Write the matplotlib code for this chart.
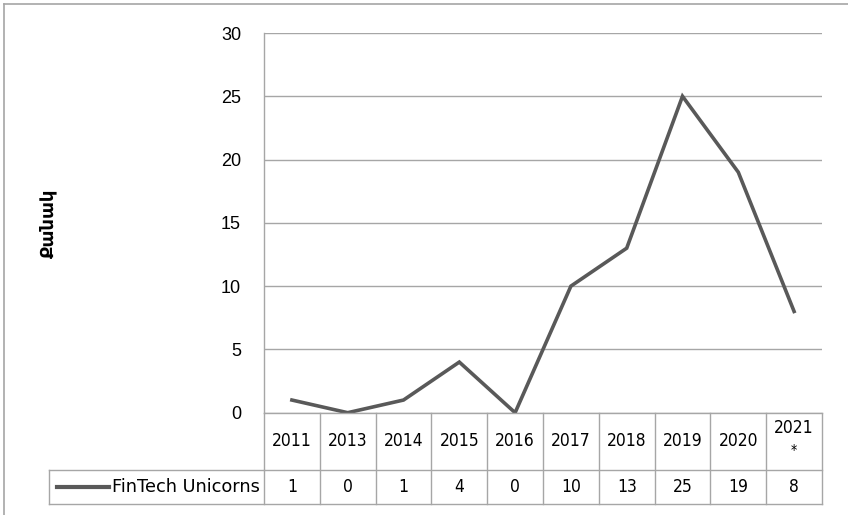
import matplotlib.pyplot as plt
import matplotlib.transforms as mtransforms
from matplotlib.lines import Line2D

plt.rcParams['font.family'] = ['Liberation Sans', 'DejaVu Sans']

# data
years = ['2011', '2013', '2014', '2015', '2016', '2017', '2018', '2019', '2020', '2021\n*']
unicorns = [1, 0, 1, 4, 0, 10, 13, 25, 19, 8]
series_name = 'FinTech Unicorns'
y_label = 'Քանակ'
y_ticks = [0, 5, 10, 15, 20, 25, 30]

line_color = '#595959'
grid_color = '#a6a6a6'

fig = plt.figure(figsize=(8.48, 5.15), dpi=100)
ax = fig.add_axes([264 / 848, 1 - 412.7 / 515, (822 - 264) / 848, (412.7 - 33) / 515])

x = list(range(len(years)))
ax.plot(x, unicorns, color=line_color, linewidth=2.6, solid_joinstyle='miter')

ax.set_xlim(-0.5, len(years) - 0.5)
ax.set_ylim(0, 30)
ax.set_yticks(y_ticks)
ax.set_xticks([])
ax.tick_params(axis='y', length=0, pad=16.5, labelsize=13)
ax.grid(axis='y', color=grid_color, linewidth=1)
ax.set_axisbelow(True)
for s in ['top', 'right', 'bottom']:
    ax.spines[s].set_visible(False)
ax.spines['left'].set_color(grid_color)
ax.spines['left'].set_linewidth(1)

ax.set_ylabel(y_label, fontsize=13, fontweight='bold', family='DejaVu Sans')
ax.yaxis.set_label_coords(-(264 - 57) / 558, 0.5)

# data table below the plot (x in data coords, y in axes coords)
trans = mtransforms.blended_transform_factory(ax.transData, ax.transAxes)
h_row1 = (470 - 412.7) / 379.7
h_row2 = (503.5 - 470) / 379.7
y0 = 0
y1 = -h_row1
y2 = -h_row1 - h_row2
x_left = -0.5
x_right = len(years) - 0.5
x_leg = -0.5 - (264 - 49) / 55.8

tkw = dict(transform=trans, clip_on=False, color=grid_color, linewidth=1)
ax.add_line(Line2D([x_left, x_right], [y0, y0], **tkw))
ax.add_line(Line2D([x_left, x_right], [y1, y1], **tkw))
ax.add_line(Line2D([x_leg, x_right], [y2, y2], **tkw))
ax.add_line(Line2D([x_leg, x_left], [y1, y1], **tkw))
for i in range(len(years) + 1):
    xb = i - 0.5
    ax.add_line(Line2D([xb, xb], [y0, y2], **tkw))
ax.add_line(Line2D([x_leg, x_leg], [y1, y2], **tkw))

fs = 12.5
tf = dict(family='DejaVu Sans', stretch='condensed')
for i, (yr, v) in enumerate(zip(years, unicorns)):
    if '\n' in yr:
        top, bot = yr.split('\n')
        ax.text(i, y1 / 2 + 0.012, top, transform=trans, ha='center', va='bottom',
                fontsize=fs, **tf)
        ax.text(i, y1 / 2 - 0.005, bot, transform=trans, ha='center', va='top',
                fontsize=10, **tf)
    else:
        ax.text(i, y1 / 2, yr, transform=trans, ha='center', va='center',
                fontsize=fs, **tf)
    ax.text(i, (y1 + y2) / 2, str(v), transform=trans, ha='center', va='center',
            fontsize=fs, **tf)

# legend key inside the table
ax.add_line(Line2D([x_leg + 0.14, x_leg + 1.08], [(y1 + y2) / 2] * 2, transform=trans,
                   clip_on=False, color=line_color, linewidth=3))
ax.text(x_left - 0.08, (y1 + y2) / 2, series_name, transform=trans, ha='right',
        va='center', fontsize=12.8, family='DejaVu Sans')

# outer chart frame (left and top edges visible)
fig.add_artist(Line2D([3.5 / 848, 3.5 / 848], [0, 1 - 3.5 / 515], transform=fig.transFigure,
                      color=grid_color, linewidth=1.2))
fig.add_artist(Line2D([3.5 / 848, 1], [1 - 3.5 / 515, 1 - 3.5 / 515], transform=fig.transFigure,
                      color=grid_color, linewidth=1.2))

fig.savefig('out.png', dpi=100)
